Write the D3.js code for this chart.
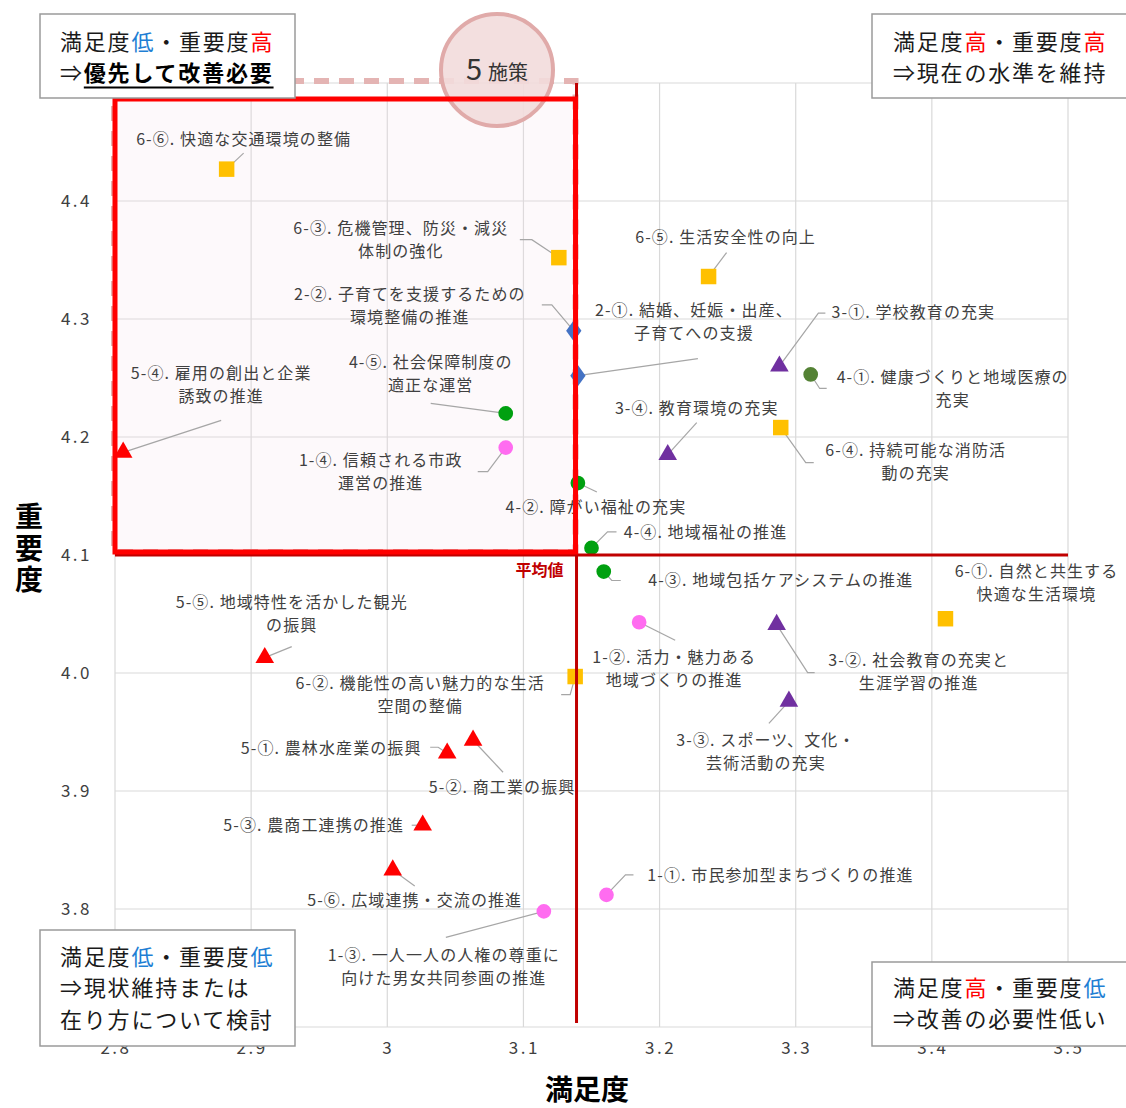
<!DOCTYPE html>
<html><head><meta charset="utf-8">
<script src="https://cdn.jsdelivr.net/npm/d3@7"></script>
<style>
html,body{margin:0;padding:0;background:#fff;}
svg{display:block;}
text{font-family:'Noto Sans CJK JP','Noto Sans',sans-serif;}
</style></head>
<body>
<svg id="chart" width="1126" height="1108"></svg>
<script>
// ---------------- data ----------------
const names = [
  "1-①. 市民参加型まちづくりの推進",
  "1-②. 活力・魅力ある\n地域づくりの推進",
  "1-③. 一人一人の人権の尊重に\n向けた男女共同参画の推進",
  "1-④. 信頼される市政\n運営の推進",
  "2-①. 結婚、妊娠・出産、\n子育てへの支援",
  "2-②. 子育てを支援するための\n環境整備の推進",
  "3-①. 学校教育の充実",
  "3-②. 社会教育の充実と\n生涯学習の推進",
  "3-③. スポーツ、文化・\n芸術活動の充実",
  "3-④. 教育環境の充実",
  "4-①. 健康づくりと地域医療の\n充実",
  "4-②. 障がい福祉の充実",
  "4-③. 地域包括ケアシステムの推進",
  "4-④. 地域福祉の推進",
  "4-⑤. 社会保障制度の\n適正な運営",
  "5-①. 農林水産業の振興",
  "5-②. 商工業の振興",
  "5-③. 農商工連携の推進",
  "5-④. 雇用の創出と企業\n誘致の推進",
  "5-⑤. 地域特性を活かした観光\nの振興",
  "5-⑥. 広域連携・交流の推進",
  "6-①. 自然と共生する\n快適な生活環境",
  "6-②. 機能性の高い魅力的な生活\n空間の整備",
  "6-③. 危機管理、防災・減災\n体制の強化",
  "6-④. 持続可能な消防活\n動の充実",
  "6-⑤. 生活安全性の向上",
  "6-⑥. 快適な交通環境の整備"
];
const satisfaction = [3.161,3.185,3.115,3.087, 3.140,3.137, 3.288,3.286,3.295,3.206, 3.311,3.140,3.159,3.150,3.087, 3.044,3.063,3.026,2.806,2.910,3.004, 3.410,3.138,3.126,3.289,3.236,2.882];
const importance   = [3.812,4.043,3.798,4.191, 4.252,4.290, 4.260,4.041,3.976,4.185, 4.253,4.161,4.086,4.106,4.220, 3.932,3.943,3.871,4.187,4.013,3.833, 4.046,3.997,4.352,4.208,4.336,4.427];
const groups = ["1","1","1","1","2","2","3","3","3","3","4a","4","4","4","4","5","5","5","5","5","5","6","6","6","6","6","6"];
const avgSatisfaction = 3.139;
const avgImportance = 4.10;
const xTicks = [2.8,2.9,3.0,3.1,3.2,3.3,3.4,3.5];
const xTickLabels = ["2.8","2.9","3","3.1","3.2","3.3","3.4","3.5"];
const yTicks = [3.7,3.8,3.9,4.0,4.1,4.2,4.3,4.4,4.5];
const yLabelTicks = [3.8,3.9,4.0,4.1,4.2,4.3,4.4];
const yTickLabels = ["3.8","3.9","4.0","4.1","4.2","4.3","4.4"];
const xTitle = "満足度";
const yTitle = "重要度";
const avgLabel = "平均値";
const badgeNumber = "5";
const badgeUnit = "施策";

// ---------------- styles / layout ----------------
const groupStyle = {
  "1": {shape:"circle", color:"#ff6cf0"},
  "2": {shape:"diamond", color:"#4472c4"},
  "3": {shape:"triangle", color:"#7030a0"},
  "4": {shape:"circle", color:"#00a010"},
  "4a":{shape:"circle", color:"#548235"},
  "5": {shape:"triangle", color:"#ff0000"},
  "6": {shape:"square", color:"#ffc000"}
};
// label offsets relative to the point: [dx, dy(first line), leader path offsets]
const labelLayout = [
  [174,-20,[[19,-20],[27,-20]]],
  [35,35,[[36,18]]],
  [-100,44,[[-98,26]]],
  [-125,13,[[-18,24],[-28,24]]],
  [116,-65,[[120,-17]]],
  [-164,-37,[[-22,-26],[-32,-26]]],
  [134,-54,[[39,-53],[46,-53]]],
  [142,36,[[31,48],[38,48]]],
  [-23,39,[[-20,22]]],
  [29,-46,[[29,-32]]],
  [142,3,[[9,14],[16,14]]],
  [18,24,[[19,9]]],
  [177,9,[[8,9],[17,9]]],
  [114,-16,[[16,-16],[25,-16]]],
  [-75,-51,[[-75,-10]]],
  [-116,-5,[[-9,-6],[-17,-6]]],
  [29,47,[[30,32]]],
  [-109,0,[[-11,0]]],
  [98,-79,[[98,-32]]],
  [27,-55,[[27,-11]]],
  [22,30,[[22,16]]],
  [91,-47,[]],
  [-155,7,[[-5,18],[-14,18]]],
  [-158,-29,[[-27,-18],[-39,-18]]],
  [135,23,[[25,35],[33,35]]],
  [17,-39,[[18,-24]]],
  [17,-30,[[17,-16]]]
];

const svg = d3.select("#chart");
const x = d3.scaleLinear().domain([2.8,3.5]).range([115,1068]);
const y = d3.scaleLinear().domain([3.7,4.5]).range([1027,83]);

// gridlines
const grid = svg.append("g");
grid.selectAll("line.v").data(xTicks).join("line")
  .attr("x1",d=>x(d)).attr("x2",d=>x(d)).attr("y1",y(4.5)).attr("y2",y(3.7))
  .attr("stroke","#d9d9d9").attr("stroke-width",1.2);
grid.selectAll("line.h").data(yTicks).join("line")
  .attr("y1",d=>y(d)).attr("y2",d=>y(d)).attr("x1",x(2.8)).attr("x2",x(3.5))
  .attr("stroke","#d9d9d9").attr("stroke-width",1.2);

// highlight area fill
const rx0 = x(2.8), rx1 = x(avgSatisfaction)-1, ry0 = y(4.5)+16, ry1 = y(avgImportance)-3;
svg.append("rect").attr("x",rx0).attr("y",ry0).attr("width",rx1-rx0).attr("height",ry1-ry0)
  .attr("fill","#f6dfe8").attr("fill-opacity",0.18);
// dashed pink outline
svg.append("rect").attr("x",rx0-1).attr("y",y(4.5)-2).attr("width",rx1-rx0+1).attr("height",ry1-y(4.5)+2)
  .attr("fill","none").attr("stroke","#e4b4b3").attr("stroke-width",6).attr("stroke-dasharray","15,10");

// labels
const labelG = svg.append("g");
names.forEach((n,i)=>{
  const px = x(satisfaction[i]), py = y(importance[i]);
  const [dx,dy,leader] = labelLayout[i];
  if(leader.length){
    const pts = [[px,py]].concat(leader.map(o=>[px+o[0],py+o[1]]));
    labelG.append("path").attr("d",d3.line()(pts)).attr("fill","none")
      .attr("stroke","#a6a6a6").attr("stroke-width",1.2);
  }
  const lines = n.split("\n");
  const t = labelG.append("text").attr("text-anchor","middle")
    .attr("font-size",16).attr("letter-spacing",1.1).attr("fill","#404040");
  lines.forEach((l,k)=>{
    t.append("tspan").attr("x",px+dx).attr("y",py+dy+k*23).attr("dy","0.36em").text(l);
  });
});

// markers
const markG = svg.append("g");
const symMap = {circle:d3.symbolCircle, diamond:d3.symbolDiamond, triangle:d3.symbolTriangle, square:d3.symbolSquare};
const sizeMap = {circle:170, diamond:130, triangle:150, square:240};
names.forEach((n,i)=>{
  const st = groupStyle[groups[i]];
  const px = x(satisfaction[i]), py = y(importance[i]);
  markG.append("path").attr("d",d3.symbol().type(symMap[st.shape]).size(sizeMap[st.shape])())
    .attr("transform",`translate(${px},${py})${st.shape==="diamond"?" scale(1.25,1)":""}`)
    .attr("fill",st.color);
});

// average lines
svg.append("line").attr("x1",x(2.8)).attr("x2",x(3.5)).attr("y1",y(avgImportance)).attr("y2",y(avgImportance))
  .attr("stroke","#c00000").attr("stroke-width",3);
svg.append("line").attr("x1",x(avgSatisfaction)).attr("x2",x(avgSatisfaction)).attr("y1",y(4.5)).attr("y2",y(3.7)-4)
  .attr("stroke","#c00000").attr("stroke-width",3);
svg.append("text").attr("x",x(avgSatisfaction)-13).attr("y",y(avgImportance)+15).attr("dy","0.36em")
  .attr("text-anchor","end").attr("font-size",16).attr("font-weight","bold").attr("fill","#c00000").text(avgLabel);

// badge circle
const badge = svg.append("g").attr("transform","translate(497,70)");
badge.append("circle").attr("r",56).attr("fill","#f2dcdb").attr("fill-opacity",0.9)
  .attr("stroke","#e0aaa9").attr("stroke-width",4);
const bt = badge.append("text").attr("text-anchor","middle").attr("y",10).attr("fill","#333");
bt.append("tspan").attr("font-size",29).text(badgeNumber);
bt.append("tspan").attr("font-size",20).attr("dx",6).text(badgeUnit);

// red highlight rectangle stroke
svg.append("rect").attr("x",rx0).attr("y",ry0).attr("width",rx1-rx0).attr("height",ry1-ry0)
  .attr("fill","none").attr("stroke","#ff0000").attr("stroke-width",5);

// tick labels
svg.append("g").selectAll("text").data(yLabelTicks).join("text")
  .attr("x",92).attr("y",d=>y(d)).attr("dy","0.36em").attr("text-anchor","end")
  .attr("font-size",17).attr("letter-spacing",2.5).attr("fill","#404040")
  .text((d,i)=>yTickLabels[i]);
svg.append("g").selectAll("text").data(xTicks).join("text")
  .attr("x",d=>x(d)+1).attr("y",1048).attr("dy","0.36em").attr("text-anchor","middle")
  .attr("font-size",17).attr("letter-spacing",2.5).attr("fill","#404040")
  .text((d,i)=>xTickLabels[i]);

// axis titles
svg.append("text").attr("x",587).attr("y",1090).attr("dy","0.36em").attr("text-anchor","middle")
  .attr("font-size",28).attr("font-weight","bold").attr("fill","#000").text(xTitle);
const yt = svg.append("text").attr("text-anchor","middle").attr("font-size",28).attr("font-weight","bold").attr("fill","#000");
Array.from(yTitle).forEach((c,k)=>{
  yt.append("tspan").attr("x",29).attr("y",517+k*31.5).attr("dy","0.36em").text(c);
});

// quadrant boxes
const BLUE = "#1f7fd4", RED = "#ff0000";
const boxes = [
  {x:40,y:14,w:255,h:84,tx:60,ty:42,lines:[[["満足度"],["低",BLUE],["・重要度"],["高",RED]],[["⇒"],["優先して改善必要",null,true]]]},
  {x:872,y:14,w:260,h:84,tx:893,ty:42,lines:[[["満足度"],["高",RED],["・重要度"],["高",RED]],[["⇒現在の水準を維持"]]]},
  {x:40,y:930,w:255,h:116,tx:60,ty:957,lines:[[["満足度"],["低",BLUE],["・重要度"],["低",BLUE]],[["⇒現状維持または"]],[["在り方について検討"]]]},
  {x:872,y:962,w:260,h:84,tx:893,ty:988,lines:[[["満足度"],["高",RED],["・重要度"],["低",BLUE]],[["⇒改善の必要性低い"]]]}
];
boxes.forEach(b=>{
  const g = svg.append("g");
  g.append("rect").attr("x",b.x).attr("y",b.y).attr("width",b.w).attr("height",b.h)
    .attr("fill","#fff").attr("stroke","#9a9a9a").attr("stroke-width",1.5);
  b.lines.forEach((ln,k)=>{
    const cy = b.ty + k*31.5;
    const t = g.append("text").attr("x",b.tx).attr("y",cy).attr("dy","0.36em")
      .attr("font-size",22).attr("letter-spacing",1.8).attr("fill","#1a1a1a");
    let pre = 0;
    ln.forEach(seg=>{
      const ts = t.append("tspan").text(seg[0]);
      if(seg[1]) ts.attr("fill",seg[1]);
      if(seg[2]){
        ts.attr("font-weight","bold").attr("fill","#000");
        const node = t.node();
        const s = node.getStartPositionOfChar(pre).x;
        const e = node.getEndPositionOfChar(pre+seg[0].length-1).x;
        g.append("line").attr("x1",s).attr("x2",e).attr("y1",cy+14).attr("y2",cy+14)
          .attr("stroke","#000").attr("stroke-width",2);
      }
      pre += seg[0].length;
    });
  });
});
</script>
</body></html>
